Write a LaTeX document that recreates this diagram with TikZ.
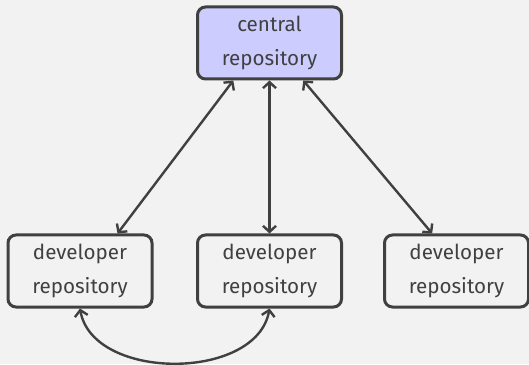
\documentclass[tikz,border=0pt]{standalone}
\usepackage{fontspec}
\setmainfont{Fira Sans}
\usetikzlibrary{arrows.meta}
\definecolor{linegray}{HTML}{404040}
\definecolor{bggray}{HTML}{F2F2F2}
\definecolor{centralblue}{HTML}{CCCCFF}
\begin{document}
\begin{tikzpicture}[x=0.5pt,y=0.5pt,
    repo/.style={draw=linegray,line width=1.5pt,rounded corners=4pt,align=center,
      minimum width=72pt,minimum height=36pt,inner sep=0pt,text=linegray,
      font=\fontsize{10.3}{17}\selectfont},
    link/.style={draw=linegray,line width=1.2pt,{Straight Barb[length=3pt,width=6.5pt]}-{Straight Barb[length=3pt,width=6.5pt]}}]
\fill[bggray] (0,0) rectangle (529,364);
\useasboundingbox (0,0) rectangle (529,364);
    \node[repo,fill=centralblue] (central) at (269.5,321) {central\\repository};
    \node[repo] (devA) at (80,93) {developer\\repository};
    \node[repo] (devB) at (269.5,93) {developer\\repository};
    \node[repo] (devC) at (456.5,93) {developer\\repository};
\draw[link] (central.-134)--(devA.45);
\draw[link] (central.south)--(devB.north);
\draw[link] (central.-48)--(devC.123);
\draw[link] (devA.south) to[out=-80,in=-100] (devB.south);
\end{tikzpicture}
\end{document}
